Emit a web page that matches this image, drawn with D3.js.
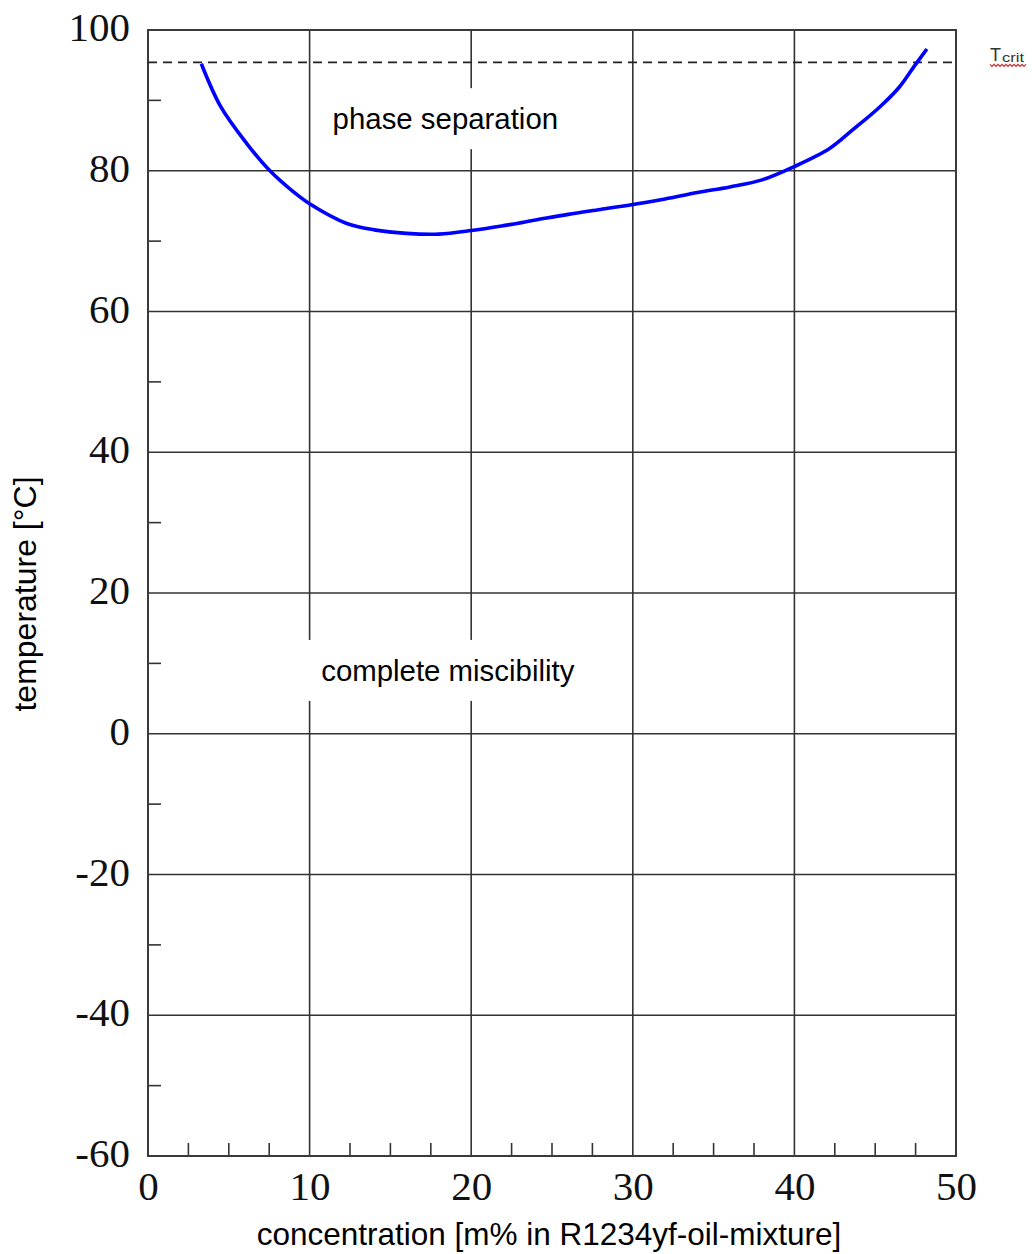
<!DOCTYPE html>
<html>
<head>
<meta charset="utf-8">
<script src="https://cdn.jsdelivr.net/npm/d3@7"></script>
<style>
  html, body { margin: 0; padding: 0; background: #fff; }
  svg { display: block; }
</style>
</head>
<body>
<svg id="chart" width="1032" height="1254"></svg>
<script>
// ---- data ----
const concentration = [3.3, 4.5, 6.1, 7.5, 9.0, 10.0, 12.3, 14, 16, 18, 20, 22, 24, 26, 28, 30, 32, 34, 36, 38, 40, 42.2, 43.6, 45.3, 46.5, 47.4, 48.2];
const temperature   = [95.2, 89.1, 83.9, 80.1, 77.0, 75.3, 72.5, 71.6, 71.1, 71.0, 71.5, 72.2, 73.0, 73.8, 74.5, 75.2, 76.0, 76.9, 77.7, 78.7, 80.6, 83.2, 85.8, 89.1, 91.9, 94.8, 97.3];
const xTicks = [0, 10, 20, 30, 40, 50];
const yTicks = [100, 80, 60, 40, 20, 0, -20, -40, -60];
const xMinor = [2.5, 5, 7.5, 12.5, 15, 17.5, 22.5, 25, 27.5, 32.5, 35, 37.5, 42.5, 45, 47.5];
const yMinor = [90, 70, 50, 30, 10, -10, -30, -50];
const tCrit = 95.4;
const xTitle = "concentration [m% in R1234yf-oil-mixture]";
const yTitle = "temperature [°C]";
const regionLabels = [
  { text: "phase separation", x: 18.4, t: 87.4 },
  { text: "complete miscibility", x: 18.55, t: 9.0 }
];

// ---- layout ----
const svg = d3.select("#chart");
const m = { left: 148, top: 30, right: 76, bottom: 98 };
const W = 1032 - m.left - m.right;
const H = 1254 - m.top - m.bottom;
const x = d3.scaleLinear().domain([0, 50]).range([0, W]);
const y = d3.scaleLinear().domain([-60, 100]).range([H, 0]);
const g = svg.append("g").attr("transform", `translate(${m.left},${m.top})`);
const gridColor = "#333";

// gridlines
g.append("g").selectAll("line").data(xTicks.filter(d => d > 0 && d < 50)).join("line")
  .attr("x1", d => x(d)).attr("x2", d => x(d)).attr("y1", 0).attr("y2", H)
  .attr("stroke", gridColor).attr("stroke-width", 1.6);
g.append("g").selectAll("line").data(yTicks.filter(d => d > -60 && d < 100)).join("line")
  .attr("x1", 0).attr("x2", W).attr("y1", d => y(d)).attr("y2", d => y(d))
  .attr("stroke", gridColor).attr("stroke-width", 1.6);

// minor ticks
g.append("g").selectAll("line").data(yMinor).join("line")
  .attr("x1", 0).attr("x2", 13).attr("y1", d => y(d)).attr("y2", d => y(d))
  .attr("stroke", gridColor).attr("stroke-width", 1.6);
g.append("g").selectAll("line").data(xMinor).join("line")
  .attr("x1", d => x(d)).attr("x2", d => x(d)).attr("y1", H).attr("y2", H - 13)
  .attr("stroke", gridColor).attr("stroke-width", 1.6);

// frame
g.append("rect").attr("x", 0).attr("y", 0).attr("width", W).attr("height", H)
  .attr("fill", "none").attr("stroke", "#3a3a3a").attr("stroke-width", 2);

// region labels with white background
const lab = g.append("g").selectAll("g").data(regionLabels).join("g");
lab.append("text")
  .attr("x", d => x(d.x)).attr("y", d => y(d.t))
  .attr("text-anchor", "middle").attr("dominant-baseline", "central")
  .attr("font-family", "'Liberation Sans', Arial, sans-serif").attr("font-size", 29.4)
  .attr("fill", "#000").text(d => d.text)
  .each(function() {
    const b = this.getBBox();
    d3.select(this.parentNode).insert("rect", "text")
      .attr("x", b.x - 14).attr("y", b.y - 14).attr("width", b.width + 28).attr("height", b.height + 28)
      .attr("fill", "#fff");
  });

// critical temperature dashed line
g.append("line").attr("x1", 0).attr("x2", W).attr("y1", y(tCrit)).attr("y2", y(tCrit))
  .attr("stroke", "#222").attr("stroke-width", 1.6).attr("stroke-dasharray", "9,6");

// curve
const pts = concentration.map((c, i) => [c, temperature[i]]);
g.append("path").datum(pts)
  .attr("d", d3.line().x(d => x(d[0])).y(d => y(d[1])).curve(d3.curveCatmullRom.alpha(0.5)))
  .attr("fill", "none").attr("stroke", "#0000ff").attr("stroke-width", 3.6)
  .attr("stroke-linecap", "butt");

// tick labels
const yAxis = d3.axisLeft(y).tickValues(yTicks).tickSize(0).tickPadding(18).tickFormat(d => String(d));
const ya = g.append("g").call(yAxis);
ya.select(".domain").remove();
ya.selectAll("text").attr("font-family", "'Liberation Serif', 'Times New Roman', serif")
  .attr("font-size", 41).attr("fill", "#111").attr("dy", "0.26em");

const xAxis = d3.axisBottom(x).tickValues(xTicks).tickSize(0).tickPadding(16).tickFormat(d => String(d));
const xa = g.append("g").attr("transform", `translate(0,${H})`).call(xAxis);
xa.select(".domain").remove();
xa.selectAll("text").attr("font-family", "'Liberation Serif', 'Times New Roman', serif")
  .attr("font-size", 41).attr("fill", "#111").attr("dy", "0.68em");

// axis titles
svg.append("text").attr("x", m.left + W / 2 - 3).attr("y", 1245)
  .attr("text-anchor", "middle")
  .attr("font-family", "'Liberation Sans', Arial, sans-serif").attr("font-size", 31.5)
  .attr("fill", "#000").text(xTitle);
svg.append("text").attr("transform", `translate(36, 594) rotate(-90)`)
  .attr("text-anchor", "middle")
  .attr("font-family", "'Liberation Sans', Arial, sans-serif").attr("font-size", 32)
  .attr("fill", "#000").text(yTitle);

// T_crit label
const tcY = m.top + y(tCrit) - 1;
const tc = svg.append("text").attr("x", 990).attr("y", tcY)
  .attr("font-family", "'Liberation Sans', Arial, sans-serif")
  .attr("fill", "#333");
tc.append("tspan").attr("font-size", 18).attr("textLength", 11).attr("lengthAdjust", "spacingAndGlyphs").text("T");
tc.append("tspan").attr("font-size", 13).attr("dy", 1).attr("dx", 1).attr("textLength", 22).attr("lengthAdjust", "spacingAndGlyphs").text("crit");
// wavy spell-check underline
const wave = [];
for (let px = 990; px <= 1027; px += 2) wave.push([px, tcY + 3 + ((px - 990) / 2 % 2 === 0 ? 0 : 2)]);
svg.append("path").datum(wave).attr("d", d3.line()).attr("fill", "none")
  .attr("stroke", "#e02020").attr("stroke-width", 1.1);
</script>
</body>
</html>
